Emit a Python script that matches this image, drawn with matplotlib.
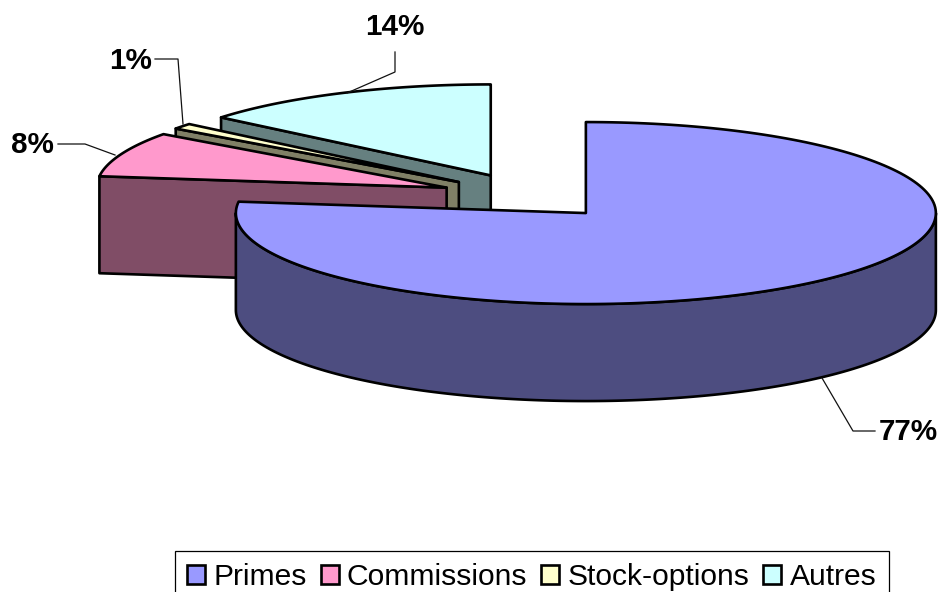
"""Exploded 3D-look pie: share of variable pay by type."""

import numpy as np
import matplotlib
matplotlib.use("Agg")
import matplotlib.pyplot as plt
from matplotlib.patches import Polygon, Patch

plt.rcParams["font.family"] = ["Liberation Sans", "DejaVu Sans"]

CATEGORIES = ["Primes", "Commissions", "Stock-options", "Autres"]
VALUES = [77, 8, 1, 14]
LABELS = ["77%", "8%", "1%", "14%"]
TOP_COLORS = ["#9999FF", "#FF99CC", "#FFFFCC", "#CCFFFF"]
WALL_COLORS = ["#4D4D80", "#804D66", "#808066", "#668080"]

# pie geometry, in picture pixels
ORIGIN = (528, 196)
RX, RY = 350, 91
DEPTH = 97
EXPLODE = 0.25


def rim(cx, cy, a, b, n=200):
    # angles in degrees, clockwise from 12 o'clock
    t = np.radians(np.linspace(a, b, n))
    return np.column_stack([cx + RX * np.sin(t), cy - RY * np.cos(t)])


def main():
    fig = plt.figure(figsize=(9.41, 5.92), dpi=100)
    ax = fig.add_axes([0, 0, 1, 1])
    ax.set_xlim(0, 941)
    ax.set_ylim(592, 0)
    ax.axis("off")

    edges = np.cumsum([0] + VALUES) / sum(VALUES) * 360
    style = dict(edgecolor="black", linewidth=1.9, joinstyle="round", closed=True)

    # back to front: Autres, Stock-options, Commissions, Primes
    for i in [3, 2, 1, 0]:
        a, b = edges[i], edges[i + 1]
        mid = np.radians((a + b) / 2)
        cx = ORIGIN[0] + EXPLODE * RX * np.sin(mid)
        cy = ORIGIN[1] - EXPLODE * RY * np.cos(mid)
        down = np.array([0, DEPTH])
        c = np.array([cx, cy])

        # cut faces
        for ang, visible in ((a, 180 < a < 360), (b, 0 < b < 180)):
            if visible:
                p = rim(cx, cy, ang, ang, 1)[0]
                ax.add_patch(Polygon([c, p, p + down, c + down],
                                     facecolor=WALL_COLORS[i], **style))
        # outer wall
        lo, hi = max(a, 90), min(b, 270)
        if lo < hi:
            arc = rim(cx, cy, lo, hi)
            ax.add_patch(Polygon(np.vstack([arc, arc[::-1] + down]),
                                 facecolor=WALL_COLORS[i], **style))
        # top face
        ax.add_patch(Polygon(np.vstack([c, rim(cx, cy, a, b)]),
                             facecolor=TOP_COLORS[i], **style))

    # leader lines and labels
    leaders = [
        ([822, 853, 875], [378, 431, 431]),
        ([115, 85, 58], [155, 144, 144]),
        ([183, 178, 155], [124, 59, 59]),
        ([347, 395, 395], [93, 72, 52]),
    ]
    label_pos = [(908, 432), (32, 145), (131, 61), (395, 27)]
    for i in range(4):
        ax.plot(leaders[i][0], leaders[i][1], color="#111111", lw=0.9, zorder=1.5)
        ax.text(label_pos[i][0], label_pos[i][1], LABELS[i], ha="center", va="center",
                fontsize=21.3, fontweight="bold", color="black")

    handles = [Patch(facecolor=c, edgecolor="black", linewidth=1.9) for c in TOP_COLORS]
    leg = ax.legend(handles, CATEGORIES, ncol=4, loc="upper left",
                    bbox_to_anchor=(175, 551), bbox_transform=ax.transData,
                    borderaxespad=0, fontsize=21.6, fancybox=False, framealpha=1,
                    edgecolor="black", handlelength=0.6, handleheight=0.6,
                    handletextpad=0.28, columnspacing=0.46, borderpad=0.4)
    leg.get_frame().set_linewidth(0.9)

    fig.savefig("out.png", dpi=100, facecolor="white")


if __name__ == "__main__":
    main()
